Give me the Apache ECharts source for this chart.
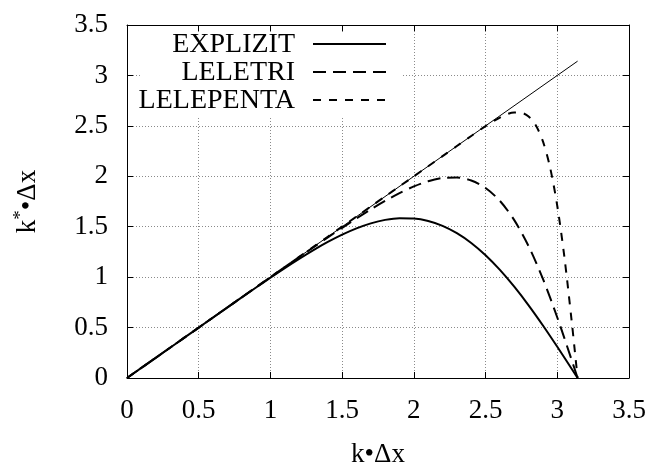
<!DOCTYPE html>
<html>
<head>
<meta charset="utf-8">
<script src="https://cdn.jsdelivr.net/npm/echarts@6/dist/echarts.min.js"></script>
<style>html,body{margin:0;padding:0;background:#fff}#c{width:646px;height:462px}</style>
</head>
<body>
<div id="c"></div>
<script>
// x values (k·Δx)
var kdx = [0,0.1,0.2,0.3,0.4,0.5,0.6,0.7,0.8,0.9,1.0,1.1,1.2,1.3,1.4,1.5,1.6,1.7,1.8,1.9,2.0,2.1,2.2,2.3,2.4,2.5,2.6,2.7,2.8,2.9,3.0,3.1,3.1416];
var explizit = [0,0.1,0.2,0.3,0.4,0.5,0.5998,0.6995,0.7987,0.8971,0.9941,1.0890,1.1807,1.2678,1.3486,1.4213,1.4837,1.5333,1.5678,1.5847,1.5817,1.5569,1.5086,1.4360,1.3385,1.2167,1.0716,0.9052,0.7204,0.5204,0.3092,0.0914,0];
var leletri = [0,0.1,0.2,0.3,0.4,0.5,0.6,0.7,0.7999,0.8998,0.9995,1.0989,1.1980,1.2963,1.3936,1.4893,1.5824,1.6720,1.7563,1.8331,1.8994,1.9510,1.9827,1.9877,1.9578,1.8838,1.7559,1.5653,1.3070,0.9820,0.6000,0.1799,0];
var kdxPenta = [0,0.1,0.2,0.3,0.4,0.5,0.6,0.7,0.8,0.9,1.0,1.1,1.2,1.3,1.4,1.5,1.6,1.7,1.8,1.9,2.0,2.1,2.2,2.3,2.4,2.5,2.6,2.7,2.75,2.8,2.85,2.9,2.95,3.0,3.05,3.1,3.12,3.1416];
var lelepenta = [0,0.1,0.2,0.3,0.4,0.5,0.6,0.7,0.8,0.9,1.0,1.1004,1.2006,1.3007,1.4009,1.5010,1.6010,1.7009,1.8007,1.9003,2.0000,2.0997,2.1997,2.3000,2.3999,2.4968,2.5822,2.633,2.630,2.593,2.506,2.346,2.086,1.7055,1.194,0.5694,0.298,0];
var exactX = [0,3.1416];
var exactY = [0,3.1416];
var seriesNames = ['EXPLIZIT','LELETRI','LELEPENTA'];
var xTitle = 'k•Δx';

function pairs(xs, ys){ return xs.map(function(x,i){ return [x, ys[i]]; }); }

var FONT = 'Liberation Serif';
var chart = echarts.init(document.getElementById('c'));
var gridLine = {show:true, lineStyle:{color:'#8a8a8a', width:1, type:[1,2]}};
var axisLine = {show:true, onZero:false, lineStyle:{color:'#000', width:1}};
var tick = {show:true, inside:true, length:6, lineStyle:{color:'#000'}};
var lab = {fontFamily:FONT, fontSize:27, color:'#000'};

chart.setOption({
  animation:false,
  backgroundColor:'#fff',
  grid:{left:127, right:17, top:25, bottom:84, containLabel:false, outerBoundsMode:'none'},
  xAxis:[
    {type:'value', min:0, max:3.5, interval:0.5, position:'bottom',
     axisLine:axisLine, axisTick:tick, splitLine:gridLine,
     axisLabel:Object.assign({margin:19}, lab),
     name:xTitle, nameLocation:'middle', nameGap:63,
     nameTextStyle:{fontFamily:FONT, fontSize:27, color:'#000'}},
    {type:'value', min:0, max:3.5, interval:0.5, position:'top',
     axisLine:axisLine, axisTick:tick, splitLine:{show:false}, axisLabel:{show:false}}
  ],
  yAxis:[
    {type:'value', min:0, max:3.5, interval:0.5, position:'left',
     axisLine:axisLine, axisTick:tick, splitLine:gridLine,
     axisLabel:Object.assign({margin:19}, lab),
     name:'k{sup|*}•Δx', nameLocation:'middle', nameGap:83, nameRotate:90,
     nameTextStyle:{fontFamily:FONT, fontSize:27, color:'#000',
       rich:{sup:{fontFamily:FONT, fontSize:19, color:'#000', verticalAlign:'bottom', padding:[0,0,13,0]}}}},
    {type:'value', min:0, max:3.5, interval:0.5, position:'right',
     axisLine:axisLine, axisTick:tick, splitLine:{show:false}, axisLabel:{show:false}}
  ],
  graphic:[
    {type:'rect', z:5, shape:{x:140, y:33, width:263, height:84}, style:{fill:'#fff'}},
    {type:'text', z:6, style:{x:295, y:45, text:seriesNames[0], textAlign:'right', textVerticalAlign:'middle', font:'28px "Liberation Serif"', fill:'#000'}},
    {type:'text', z:6, style:{x:295, y:73, text:seriesNames[1], textAlign:'right', textVerticalAlign:'middle', font:'28px "Liberation Serif"', fill:'#000'}},
    {type:'text', z:6, style:{x:295, y:101, text:seriesNames[2], textAlign:'right', textVerticalAlign:'middle', font:'28px "Liberation Serif"', fill:'#000'}},
    {type:'line', z:6, shape:{x1:313, y1:44, x2:386, y2:44}, style:{stroke:'#000', lineWidth:2}},
    {type:'line', z:6, shape:{x1:313, y1:72, x2:386, y2:72}, style:{stroke:'#000', lineWidth:2, lineDash:[13,7]}},
    {type:'line', z:6, shape:{x1:313, y1:100, x2:386, y2:100}, style:{stroke:'#000', lineWidth:2, lineDash:[8,8]}}
  ],
  series:[
    {type:'line', name:'exact', data:pairs(exactX, exactY), showSymbol:false, symbol:'none',
     lineStyle:{color:'#000', width:1}, z:3},
    {type:'line', name:seriesNames[0], data:pairs(kdx, explizit), symbol:'none', smooth:0.3,
     lineStyle:{color:'#000', width:2}, z:4},
    {type:'line', name:seriesNames[1], data:pairs(kdx, leletri), symbol:'none', smooth:0.3,
     lineStyle:{color:'#000', width:2, type:[13,7]}, z:4},
    {type:'line', name:seriesNames[2], data:pairs(kdxPenta, lelepenta), symbol:'none', smooth:0.3,
     lineStyle:{color:'#000', width:2, type:[8,8]}, z:4}
  ]
});
</script>
</body>
</html>
